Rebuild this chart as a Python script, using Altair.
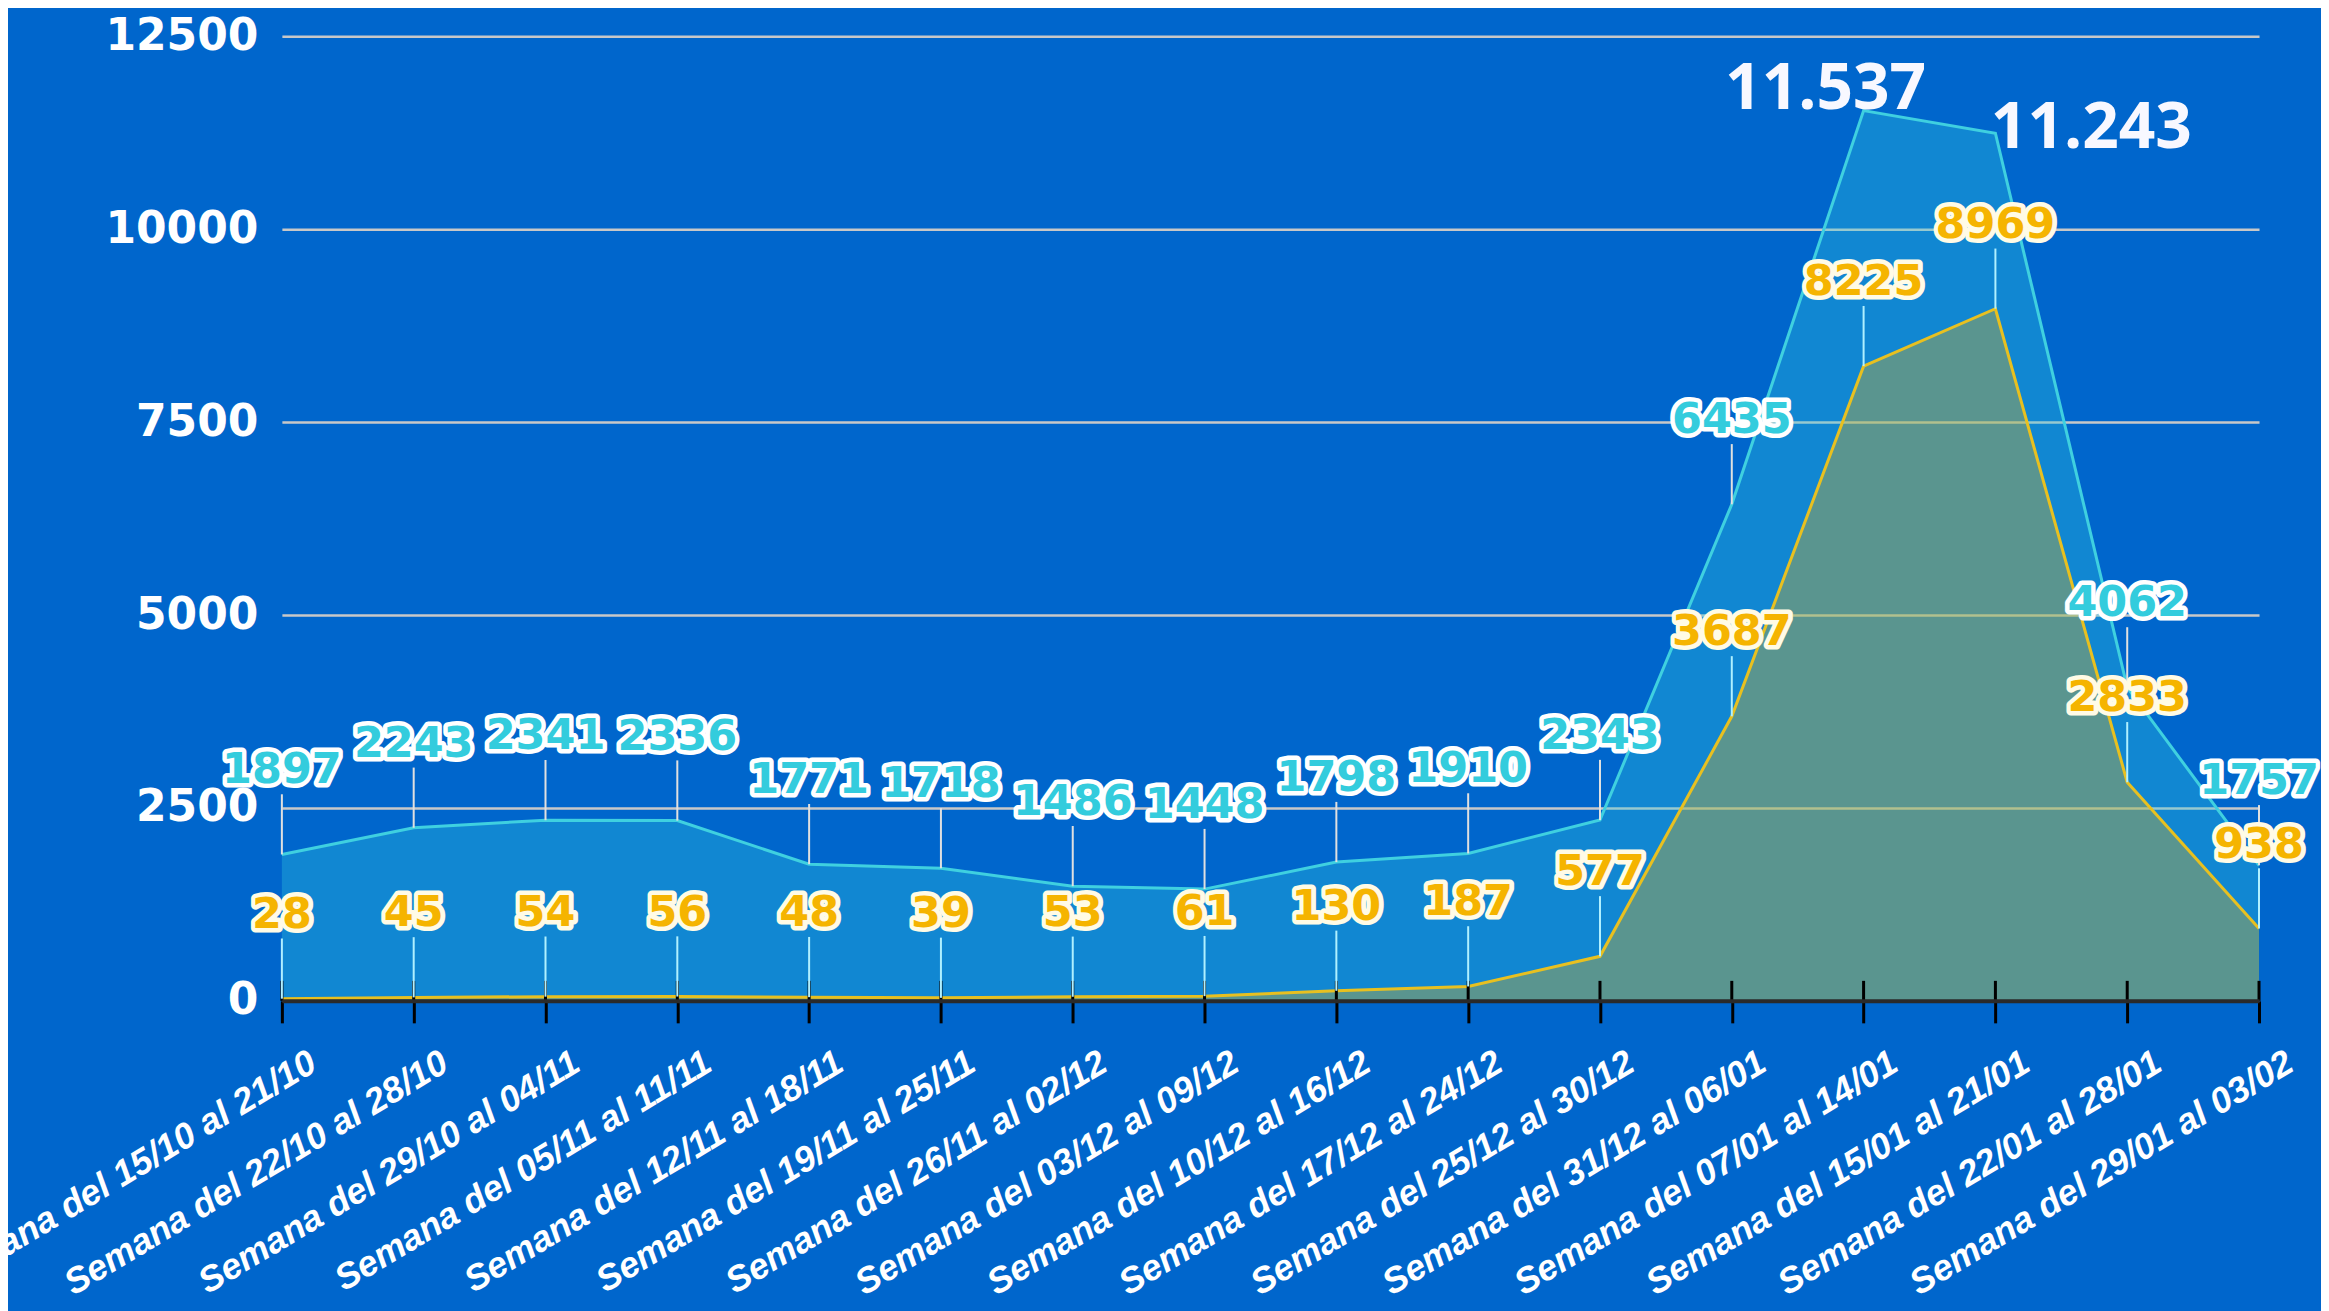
import altair as alt
import pandas as pd

weeks = [
    "Semana del 15/10 al 21/10", "Semana del 22/10 al 28/10", "Semana del 29/10 al 04/11",
    "Semana del 05/11 al 11/11", "Semana del 12/11 al 18/11", "Semana del 19/11 al 25/11",
    "Semana del 26/11 al 02/12", "Semana del 03/12 al 09/12", "Semana del 10/12 al 16/12",
    "Semana del 17/12 al 24/12", "Semana del 25/12 al 30/12", "Semana del 31/12 al 06/01",
    "Semana del 07/01  al 14/01", "Semana del 15/01 al 21/01", "Semana del 22/01 al 28/01",
    "Semana del 29/01  al 03/02",
]
casos = [1897, 2243, 2341, 2336, 1771, 1718, 1486, 1448, 1798, 1910, 2343, 6435, 11537, 11243, 4062, 1757]
otros = [28, 45, 54, 56, 48, 39, 53, 61, 130, 187, 577, 3687, 8225, 8969, 2833, 938]

peak_weeks = ["Semana del 07/01  al 14/01", "Semana del 15/01 al 21/01"]
peak_values = [11537, 11243]
peak_text = ["11.537", "11.243"]

y_ticks = [0, 2500, 5000, 7500, 10000, 12500]

df = pd.DataFrame({"semana": weeks, "casos": casos, "otros": otros})
peaks = pd.DataFrame({"semana": peak_weeks, "valor": peak_values, "texto": peak_text})

W, H = 1978, 965

xenc = alt.X(
    "semana:N", sort=weeks, title=None,
    scale=alt.Scale(type="point", padding=0),
    axis=alt.Axis(
        labelAngle=-31, labelAlign="right", labelBaseline="top",
        labelOffset=22, labelPadding=22, labelLimit=2000, labelOverlap=False,
        labelFont="Liberation Sans", labelFontSize=36, labelFontWeight="bold",
        labelFontStyle="italic", labelColor="white",
        tickColor="black", tickSize=22, tickWidth=3,
        domainColor="#2a2a2a", domainWidth=4, grid=False, zindex=1,
    ),
)
yscale = alt.Scale(domain=[0, 12500], nice=False, zero=True)
yaxis = alt.Axis(
    values=y_ticks, title=None, domain=False, ticks=False, format="d",
    labelFont="DejaVu Sans", labelFontSize=44, labelFontWeight="bold",
    labelColor="white", labelPadding=24, gridColor="#c8c8c8", gridWidth=2.5,
)

base = alt.Chart(df).encode(x=xenc)

area_c = base.mark_area(color="#33ccdd", opacity=0.33).encode(
    y=alt.Y("casos:Q", scale=yscale, axis=yaxis, stack=None))
area_y = base.mark_area(color="#e2b015", opacity=0.35).encode(
    y=alt.Y("otros:Q", scale=yscale, axis=yaxis, stack=None))
line_c = base.mark_line(color="#3fd0e0", strokeWidth=3).encode(
    y=alt.Y("casos:Q", scale=yscale, axis=yaxis))
line_y = base.mark_line(color="#e8c020", strokeWidth=3).encode(
    y=alt.Y("otros:Q", scale=yscale, axis=yaxis))

tick_up = base.mark_rule(color="black", strokeWidth=3).encode(
    y=alt.value(H - 20), y2=alt.value(H))

lead_c = base.transform_filter("datum.casos < 10000").transform_calculate(
    top="datum.casos + 780").mark_rule(color="#e0e0e0", strokeWidth=2).encode(
    y=alt.Y("casos:Q", scale=yscale, axis=yaxis), y2="top:Q")
lead_y = base.transform_calculate(top="datum.otros + 780").mark_rule(
    color="#b0f0ff", strokeWidth=2).encode(
    y=alt.Y("otros:Q", scale=yscale, axis=yaxis), y2="top:Q")

txt_kw = dict(font="DejaVu Sans", fontSize=43, fontWeight="bold", dy=-84, baseline="middle", align="center")

lab_c_out = base.transform_filter("datum.casos < 10000").mark_text(
    stroke="white", strokeWidth=9, strokeJoin="round", fill="white", **txt_kw).encode(
    y=alt.Y("casos:Q", scale=yscale, axis=yaxis), text=alt.Text("casos:Q", format="d"))
lab_c = base.transform_filter("datum.casos < 10000").mark_text(color="#33ccdd", **txt_kw).encode(
    y=alt.Y("casos:Q", scale=yscale, axis=yaxis), text=alt.Text("casos:Q", format="d"))
lab_y_out = base.mark_text(
    stroke="#fffbe6", strokeWidth=9, strokeJoin="round", fill="#fffbe6", **txt_kw).encode(
    y=alt.Y("otros:Q", scale=yscale, axis=yaxis), text=alt.Text("otros:Q", format="d"))
lab_y = base.mark_text(color="#f5b400", **txt_kw).encode(
    y=alt.Y("otros:Q", scale=yscale, axis=yaxis), text=alt.Text("otros:Q", format="d"))

peak_styles = [dict(dx=-38, dy=-2), dict(dx=96, dy=15)]
peak_layers = []
for i, st in enumerate(peak_styles):
    peak_layers.append(
        alt.Chart(peaks).transform_filter(alt.datum.texto == peak_text[i]).mark_text(
            font="Open Sans", fontSize=64, fontWeight="bold", color="#f8f8ff",
            align="center", baseline="alphabetic", **st).encode(
            x=xenc, y=alt.Y("valor:Q", scale=yscale, axis=yaxis), text="texto:N")
    )

chart = alt.layer(
    area_c, area_y, line_c, line_y, tick_up, lead_c, lead_y,
    lab_c_out, lab_c, lab_y_out, lab_y, *peak_layers
).properties(
    width=W, height=H,
    autosize=alt.AutoSizeParams(type="none"),
    padding={"left": 274, "top": 28, "right": 62, "bottom": 310},
).configure(background="#0066cc").configure_view(stroke=None)

chart.save("out.html", embed_options={"renderer": "svg", "actions": False})
